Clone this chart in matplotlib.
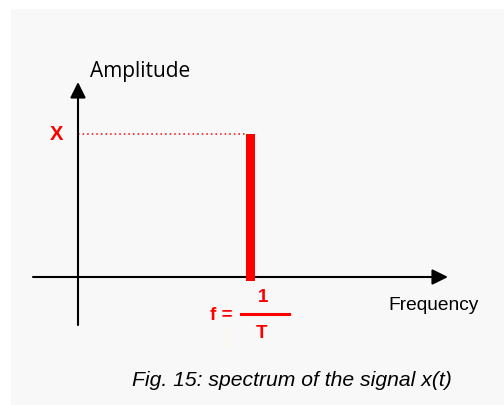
"""Spectrum of a pure sine: one line at f = 1/T with amplitude X."""
import matplotlib.pyplot as plt
from matplotlib.patches import Rectangle

# single spectral line (normalised units: f in 1/T, amplitude in X)
freqs = [1.0]
amps = [1.0]

RED = "#ff0000"
W, H = 504, 405

fig = plt.figure(figsize=(W / 100, H / 100), dpi=100, facecolor="white")
# light grey panel
fig.patches.append(Rectangle((11 / W, 0), 1 - 11 / W, 1 - 9 / H,
                             transform=fig.transFigure, facecolor="#f8f8f8",
                             edgecolor="none", zorder=-5))

ax = fig.add_axes([0, 0, 1, 1])
ax.set_axis_off()
ax.patch.set_alpha(0)
# origin at pixel (78, 277); f=1 at x=250.5px, X=1 at y=134px
sx, sy = 172.5, 143.0
ax.set_xlim(-78 / sx, (W - 78) / sx)
ax.set_ylim(-(H - 277) / sy, 277 / sy)


def fx(p):  # figure pixel -> figure fraction
    return p / W


def fy(p):
    return 1 - p / H


# axes with arrow heads
arrow = dict(arrowstyle="-|>,head_length=0.95,head_width=0.47", color="black",
             lw=1.5, shrinkA=0, shrinkB=0, mutation_scale=10)
ax.annotate("", xy=(0, (277 - 82) / sy), xytext=(0, -(325 - 277) / sy),
            arrowprops=arrow)
ax.annotate("", xy=((448 - 78) / sx, 0), xytext=((33 - 78) / sx, 0),
            arrowprops=arrow)

# spectral line and dotted level
ax.bar(freqs, [a + 0.03 for a in amps], bottom=-0.03, width=9 / sx,
       color=RED, zorder=3)
for f, a in zip(freqs, amps):
    ax.plot([0, f - 4.5 / sx], [a, a], ls=(0, (1, 2)), color=RED, lw=1.1)

fig.text(fx(90), fy(72), "Amplitude", fontsize=15, family="Open Sans",
         va="center", ha="left")
fig.text(fx(57), fy(134), "X", fontsize=14.5, color=RED, fontweight="bold",
         family="Liberation Sans", va="center", ha="center")
fig.text(fx(388), fy(305), "Frequency", fontsize=13.8,
         family="Liberation Sans", va="center", ha="left")

# f = 1/T label
fig.text(fx(221), fy(315), "f =", fontsize=13.5, color=RED, fontweight="bold",
         family="Liberation Sans", va="center", ha="center")
fig.text(fx(263), fy(297), "1", fontsize=13.5, color=RED, fontweight="bold",
         family="Liberation Sans", va="center", ha="center")
fig.text(fx(261), fy(334), "T", fontsize=13.5, color=RED, fontweight="bold",
         family="Liberation Sans", va="center", ha="center")
fig.add_artist(plt.Line2D([fx(241), fx(289)], [fy(314), fy(314)],
                          color=RED, lw=2.2))
fig.text(fx(226), fy(340), "3", fontsize=18, color="#fcf7f1", fontweight="bold",
         family="Liberation Sans", va="center", ha="center")

fig.text(fx(132), fy(380), "Fig. 15: spectrum of the signal x(t)",
         fontsize=15.2, style="italic", family="Liberation Sans",
         va="center", ha="left")

fig.savefig("out.png", dpi=100, facecolor=fig.get_facecolor())
